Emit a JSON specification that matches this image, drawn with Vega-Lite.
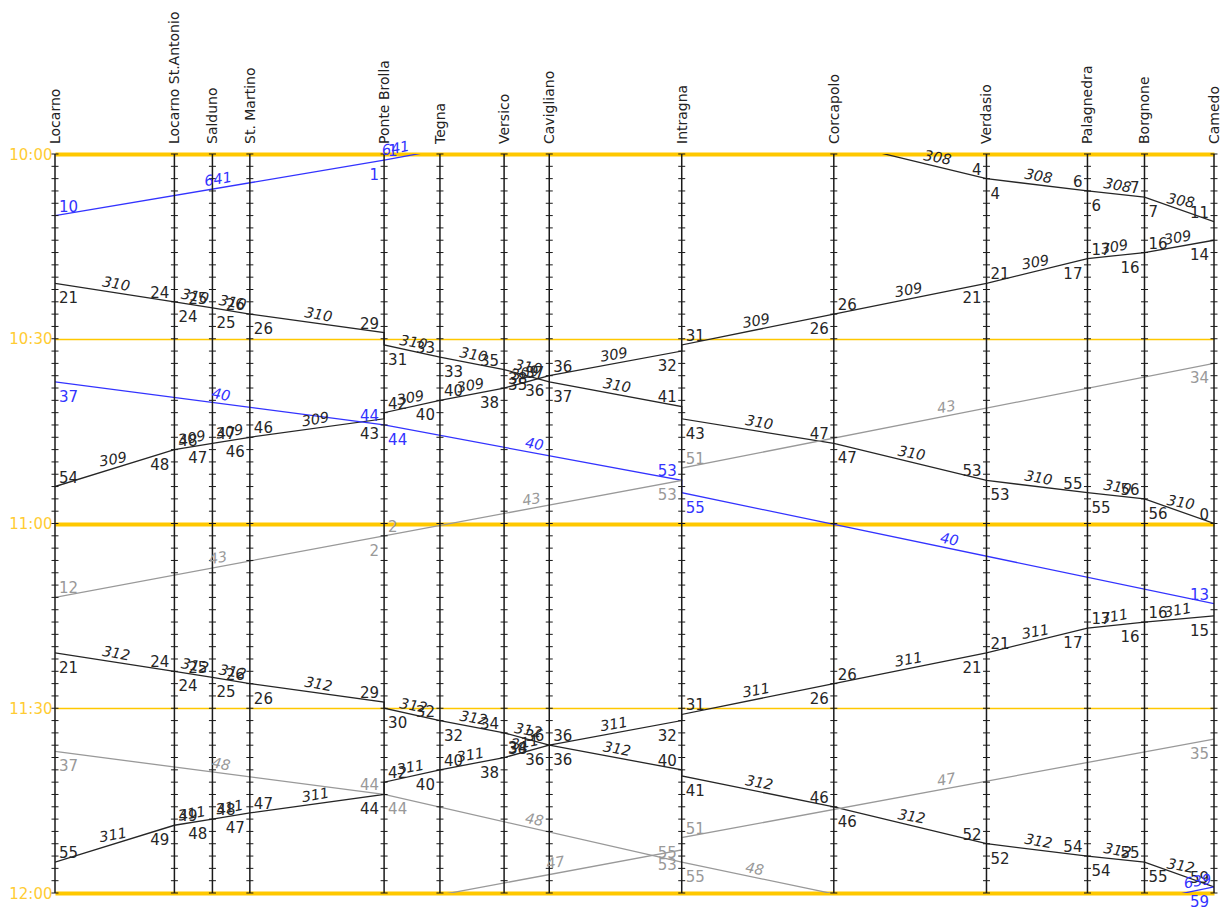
{
  "$schema": "https://vega.github.io/schema/vega-lite/v6.json",
  "width": 1159,
  "height": 739,
  "autosize": {"type": "none"},
  "padding": {"left": 55, "top": 154, "right": 13, "bottom": 14},
  "background": "white",
  "config": {"view": {"stroke": null}, "text": {"font": "DejaVu Sans"}},
  "datasets": {
    "stations": [
      {"s": "Locarno", "k": 0},
      {"s": "Locarno St.Antonio", "k": 2.01},
      {"s": "Salduno", "k": 2.65},
      {"s": "St. Martino", "k": 3.28},
      {"s": "Ponte Brolla", "k": 5.54},
      {"s": "Tegna", "k": 6.48},
      {"s": "Versico", "k": 7.56},
      {"s": "Cavigliano", "k": 8.32},
      {"s": "Intragna", "k": 10.55},
      {"s": "Corcapolo", "k": 13.11},
      {"s": "Verdasio", "k": 15.68},
      {"s": "Palagnedra", "k": 17.38},
      {"s": "Borgnone", "k": 18.34},
      {"s": "Camedo", "k": 19.51}
    ],
    "trains": [
      {"tr": "641", "cat": "E", "dir": "L"},
      {"tr": "308", "cat": "R", "dir": "R"},
      {"tr": "310", "cat": "R", "dir": "R"},
      {"tr": "309", "cat": "R", "dir": "L"},
      {"tr": "40", "cat": "E", "dir": "R"},
      {"tr": "43", "cat": "G", "dir": "L"},
      {"tr": "312", "cat": "R", "dir": "R"},
      {"tr": "311", "cat": "R", "dir": "L"},
      {"tr": "48", "cat": "G", "dir": "R"},
      {"tr": "47", "cat": "G", "dir": "L"},
      {"tr": "639", "cat": "E", "dir": "L"}
    ]
  },
  "data": {
    "values": [
      {"tr": "641", "s": "Intragna", "e": "d", "t": "09:52", "g": 1},
      {"tr": "641", "s": "Ponte Brolla", "e": "a", "t": "10:01", "g": 1},
      {"tr": "641", "s": "Ponte Brolla", "e": "d", "t": "10:01", "g": 2},
      {"tr": "641", "s": "Locarno", "e": "a", "t": "10:10", "g": 2},

      {"tr": "308", "s": "Corcapolo", "e": "d", "t": "09:58", "g": 1},
      {"tr": "308", "s": "Verdasio", "e": "a", "t": "10:04", "g": 1},
      {"tr": "308", "s": "Verdasio", "e": "d", "t": "10:04", "g": 2},
      {"tr": "308", "s": "Palagnedra", "e": "a", "t": "10:06", "g": 2},
      {"tr": "308", "s": "Palagnedra", "e": "d", "t": "10:06", "g": 3},
      {"tr": "308", "s": "Borgnone", "e": "a", "t": "10:07", "g": 3},
      {"tr": "308", "s": "Borgnone", "e": "d", "t": "10:07", "g": 4},
      {"tr": "308", "s": "Camedo", "e": "a", "t": "10:11", "g": 4},

      {"tr": "310", "s": "Locarno", "e": "d", "t": "10:21", "g": 1},
      {"tr": "310", "s": "Locarno St.Antonio", "e": "a", "t": "10:24", "g": 1},
      {"tr": "310", "s": "Locarno St.Antonio", "e": "d", "t": "10:24", "g": 2},
      {"tr": "310", "s": "Salduno", "e": "a", "t": "10:25", "g": 2},
      {"tr": "310", "s": "Salduno", "e": "d", "t": "10:25", "g": 3},
      {"tr": "310", "s": "St. Martino", "e": "a", "t": "10:26", "g": 3},
      {"tr": "310", "s": "St. Martino", "e": "d", "t": "10:26", "g": 4},
      {"tr": "310", "s": "Ponte Brolla", "e": "a", "t": "10:29", "g": 4},
      {"tr": "310", "s": "Ponte Brolla", "e": "d", "t": "10:31", "g": 5},
      {"tr": "310", "s": "Tegna", "e": "a", "t": "10:33", "g": 5},
      {"tr": "310", "s": "Tegna", "e": "d", "t": "10:33", "g": 6},
      {"tr": "310", "s": "Versico", "e": "a", "t": "10:35", "g": 6},
      {"tr": "310", "s": "Versico", "e": "d", "t": "10:35", "g": 7},
      {"tr": "310", "s": "Cavigliano", "e": "a", "t": "10:37", "g": 7},
      {"tr": "310", "s": "Cavigliano", "e": "d", "t": "10:37", "g": 8},
      {"tr": "310", "s": "Intragna", "e": "a", "t": "10:41", "g": 8},
      {"tr": "310", "s": "Intragna", "e": "d", "t": "10:43", "g": 9},
      {"tr": "310", "s": "Corcapolo", "e": "a", "t": "10:47", "g": 9},
      {"tr": "310", "s": "Corcapolo", "e": "d", "t": "10:47", "g": 10},
      {"tr": "310", "s": "Verdasio", "e": "a", "t": "10:53", "g": 10},
      {"tr": "310", "s": "Verdasio", "e": "d", "t": "10:53", "g": 11},
      {"tr": "310", "s": "Palagnedra", "e": "a", "t": "10:55", "g": 11},
      {"tr": "310", "s": "Palagnedra", "e": "d", "t": "10:55", "g": 12},
      {"tr": "310", "s": "Borgnone", "e": "a", "t": "10:56", "g": 12},
      {"tr": "310", "s": "Borgnone", "e": "d", "t": "10:56", "g": 13},
      {"tr": "310", "s": "Camedo", "e": "a", "t": "11:00", "g": 13},

      {"tr": "309", "s": "Camedo", "e": "d", "t": "10:14", "g": 1},
      {"tr": "309", "s": "Borgnone", "e": "a", "t": "10:16", "g": 1},
      {"tr": "309", "s": "Borgnone", "e": "d", "t": "10:16", "g": 2},
      {"tr": "309", "s": "Palagnedra", "e": "a", "t": "10:17", "g": 2},
      {"tr": "309", "s": "Palagnedra", "e": "d", "t": "10:17", "g": 3},
      {"tr": "309", "s": "Verdasio", "e": "a", "t": "10:21", "g": 3},
      {"tr": "309", "s": "Verdasio", "e": "d", "t": "10:21", "g": 4},
      {"tr": "309", "s": "Corcapolo", "e": "a", "t": "10:26", "g": 4},
      {"tr": "309", "s": "Corcapolo", "e": "d", "t": "10:26", "g": 5},
      {"tr": "309", "s": "Intragna", "e": "a", "t": "10:31", "g": 5},
      {"tr": "309", "s": "Intragna", "e": "d", "t": "10:32", "g": 6},
      {"tr": "309", "s": "Cavigliano", "e": "a", "t": "10:36", "g": 6},
      {"tr": "309", "s": "Cavigliano", "e": "d", "t": "10:36", "g": 7},
      {"tr": "309", "s": "Versico", "e": "a", "t": "10:38", "g": 7},
      {"tr": "309", "s": "Versico", "e": "d", "t": "10:38", "g": 8},
      {"tr": "309", "s": "Tegna", "e": "a", "t": "10:40", "g": 8},
      {"tr": "309", "s": "Tegna", "e": "d", "t": "10:40", "g": 9},
      {"tr": "309", "s": "Ponte Brolla", "e": "a", "t": "10:42", "g": 9},
      {"tr": "309", "s": "Ponte Brolla", "e": "d", "t": "10:43", "g": 10},
      {"tr": "309", "s": "St. Martino", "e": "a", "t": "10:46", "g": 10},
      {"tr": "309", "s": "St. Martino", "e": "d", "t": "10:46", "g": 11},
      {"tr": "309", "s": "Salduno", "e": "a", "t": "10:47", "g": 11},
      {"tr": "309", "s": "Salduno", "e": "d", "t": "10:47", "g": 12},
      {"tr": "309", "s": "Locarno St.Antonio", "e": "a", "t": "10:48", "g": 12},
      {"tr": "309", "s": "Locarno St.Antonio", "e": "d", "t": "10:48", "g": 13},
      {"tr": "309", "s": "Locarno", "e": "a", "t": "10:54", "g": 13},

      {"tr": "40", "s": "Locarno", "e": "d", "t": "10:37", "g": 1},
      {"tr": "40", "s": "Ponte Brolla", "e": "a", "t": "10:44", "g": 1},
      {"tr": "40", "s": "Ponte Brolla", "e": "d", "t": "10:44", "g": 2},
      {"tr": "40", "s": "Intragna", "e": "a", "t": "10:53", "g": 2},
      {"tr": "40", "s": "Intragna", "e": "d", "t": "10:55", "g": 3},
      {"tr": "40", "s": "Camedo", "e": "a", "t": "11:13", "g": 3},

      {"tr": "43", "s": "Camedo", "e": "d", "t": "10:34", "g": 1},
      {"tr": "43", "s": "Intragna", "e": "a", "t": "10:51", "g": 1},
      {"tr": "43", "s": "Intragna", "e": "d", "t": "10:53", "g": 2},
      {"tr": "43", "s": "Ponte Brolla", "e": "a", "t": "11:02", "g": 2},
      {"tr": "43", "s": "Ponte Brolla", "e": "d", "t": "11:02", "g": 3},
      {"tr": "43", "s": "Locarno", "e": "a", "t": "11:12", "g": 3},

      {"tr": "312", "s": "Locarno", "e": "d", "t": "11:21", "g": 1},
      {"tr": "312", "s": "Locarno St.Antonio", "e": "a", "t": "11:24", "g": 1},
      {"tr": "312", "s": "Locarno St.Antonio", "e": "d", "t": "11:24", "g": 2},
      {"tr": "312", "s": "Salduno", "e": "a", "t": "11:25", "g": 2},
      {"tr": "312", "s": "Salduno", "e": "d", "t": "11:25", "g": 3},
      {"tr": "312", "s": "St. Martino", "e": "a", "t": "11:26", "g": 3},
      {"tr": "312", "s": "St. Martino", "e": "d", "t": "11:26", "g": 4},
      {"tr": "312", "s": "Ponte Brolla", "e": "a", "t": "11:29", "g": 4},
      {"tr": "312", "s": "Ponte Brolla", "e": "d", "t": "11:30", "g": 5},
      {"tr": "312", "s": "Tegna", "e": "a", "t": "11:32", "g": 5},
      {"tr": "312", "s": "Tegna", "e": "d", "t": "11:32", "g": 6},
      {"tr": "312", "s": "Versico", "e": "a", "t": "11:34", "g": 6},
      {"tr": "312", "s": "Versico", "e": "d", "t": "11:34", "g": 7},
      {"tr": "312", "s": "Cavigliano", "e": "a", "t": "11:36", "g": 7},
      {"tr": "312", "s": "Cavigliano", "e": "d", "t": "11:36", "g": 8},
      {"tr": "312", "s": "Intragna", "e": "a", "t": "11:40", "g": 8},
      {"tr": "312", "s": "Intragna", "e": "d", "t": "11:41", "g": 9},
      {"tr": "312", "s": "Corcapolo", "e": "a", "t": "11:46", "g": 9},
      {"tr": "312", "s": "Corcapolo", "e": "d", "t": "11:46", "g": 10},
      {"tr": "312", "s": "Verdasio", "e": "a", "t": "11:52", "g": 10},
      {"tr": "312", "s": "Verdasio", "e": "d", "t": "11:52", "g": 11},
      {"tr": "312", "s": "Palagnedra", "e": "a", "t": "11:54", "g": 11},
      {"tr": "312", "s": "Palagnedra", "e": "d", "t": "11:54", "g": 12},
      {"tr": "312", "s": "Borgnone", "e": "a", "t": "11:55", "g": 12},
      {"tr": "312", "s": "Borgnone", "e": "d", "t": "11:55", "g": 13},
      {"tr": "312", "s": "Camedo", "e": "a", "t": "11:59", "g": 13},

      {"tr": "311", "s": "Camedo", "e": "d", "t": "11:15", "g": 1},
      {"tr": "311", "s": "Borgnone", "e": "a", "t": "11:16", "g": 1},
      {"tr": "311", "s": "Borgnone", "e": "d", "t": "11:16", "g": 2},
      {"tr": "311", "s": "Palagnedra", "e": "a", "t": "11:17", "g": 2},
      {"tr": "311", "s": "Palagnedra", "e": "d", "t": "11:17", "g": 3},
      {"tr": "311", "s": "Verdasio", "e": "a", "t": "11:21", "g": 3},
      {"tr": "311", "s": "Verdasio", "e": "d", "t": "11:21", "g": 4},
      {"tr": "311", "s": "Corcapolo", "e": "a", "t": "11:26", "g": 4},
      {"tr": "311", "s": "Corcapolo", "e": "d", "t": "11:26", "g": 5},
      {"tr": "311", "s": "Intragna", "e": "a", "t": "11:31", "g": 5},
      {"tr": "311", "s": "Intragna", "e": "d", "t": "11:32", "g": 6},
      {"tr": "311", "s": "Cavigliano", "e": "a", "t": "11:36", "g": 6},
      {"tr": "311", "s": "Cavigliano", "e": "d", "t": "11:36", "g": 7},
      {"tr": "311", "s": "Versico", "e": "a", "t": "11:38", "g": 7},
      {"tr": "311", "s": "Versico", "e": "d", "t": "11:38", "g": 8},
      {"tr": "311", "s": "Tegna", "e": "a", "t": "11:40", "g": 8},
      {"tr": "311", "s": "Tegna", "e": "d", "t": "11:40", "g": 9},
      {"tr": "311", "s": "Ponte Brolla", "e": "a", "t": "11:42", "g": 9},
      {"tr": "311", "s": "Ponte Brolla", "e": "d", "t": "11:44", "g": 10},
      {"tr": "311", "s": "St. Martino", "e": "a", "t": "11:47", "g": 10},
      {"tr": "311", "s": "St. Martino", "e": "d", "t": "11:47", "g": 11},
      {"tr": "311", "s": "Salduno", "e": "a", "t": "11:48", "g": 11},
      {"tr": "311", "s": "Salduno", "e": "d", "t": "11:48", "g": 12},
      {"tr": "311", "s": "Locarno St.Antonio", "e": "a", "t": "11:49", "g": 12},
      {"tr": "311", "s": "Locarno St.Antonio", "e": "d", "t": "11:49", "g": 13},
      {"tr": "311", "s": "Locarno", "e": "a", "t": "11:55", "g": 13},

      {"tr": "48", "s": "Locarno", "e": "d", "t": "11:37", "g": 1},
      {"tr": "48", "s": "Ponte Brolla", "e": "a", "t": "11:44", "g": 1},
      {"tr": "48", "s": "Ponte Brolla", "e": "d", "t": "11:44", "g": 2},
      {"tr": "48", "s": "Intragna", "e": "a", "t": "11:55", "g": 2},
      {"tr": "48", "s": "Intragna", "e": "d", "t": "11:55", "g": 3},
      {"tr": "48", "s": "Camedo", "e": "a", "t": "12:13", "g": 3},

      {"tr": "47", "s": "Camedo", "e": "d", "t": "11:35", "g": 1},
      {"tr": "47", "s": "Intragna", "e": "a", "t": "11:51", "g": 1},
      {"tr": "47", "s": "Intragna", "e": "d", "t": "11:53", "g": 2},
      {"tr": "47", "s": "Ponte Brolla", "e": "a", "t": "12:02", "g": 2},

      {"tr": "639", "s": "Camedo", "e": "d", "t": "11:59", "g": 1},
      {"tr": "639", "s": "Intragna", "e": "a", "t": "12:17", "g": 1}
    ],
    "format": {"parse": {"t": "utc:'%H:%M'"}}
  },
  "transform": [
    {"lookup": "s", "from": {"data": {"name": "stations"}, "key": "s", "fields": ["k"]}},
    {"lookup": "tr", "from": {"data": {"name": "trains"}, "key": "tr", "fields": ["cat", "dir"]}}
  ],
  "encoding": {
    "x": {"field": "k", "type": "quantitative", "scale": {"domain": [0, 19.51], "nice": false, "zero": false}, "axis": null},
    "color": {"field": "cat", "type": "nominal", "scale": {"domain": ["R", "E", "G"], "range": ["#262626", "#3333FF", "#999999"]}, "legend": null}
  },
  "layer": [
    {
      "encoding": {
        "y": {
          "field": "t", "type": "temporal",
          "scale": {"type": "utc", "reverse": true, "nice": false,
            "domain": [{"utc": true, "year": 1900, "month": 1, "date": 1, "hours": 10, "minutes": 0},
                       {"utc": true, "year": 1900, "month": 1, "date": 1, "hours": 12, "minutes": 0}]},
          "axis": {
            "title": null,
            "values": [
              {"utc": true, "year": 1900, "month": 1, "date": 1, "hours": 10, "minutes": 0},
              {"utc": true, "year": 1900, "month": 1, "date": 1, "hours": 10, "minutes": 30},
              {"utc": true, "year": 1900, "month": 1, "date": 1, "hours": 11, "minutes": 0},
              {"utc": true, "year": 1900, "month": 1, "date": 1, "hours": 11, "minutes": 30},
              {"utc": true, "year": 1900, "month": 1, "date": 1, "hours": 12, "minutes": 0}
            ],
            "format": "%H:%M",
            "ticks": false,
            "domain": false,
            "labelColor": "#FFCC33",
            "labelFont": "DejaVu Sans",
            "labelFontSize": 15,
            "labelPadding": 3,
            "labelOverlap": false,
            "grid": true,
            "gridColor": "#FFC800",
            "gridOpacity": 1,
            "gridWidth": {"condition": {"test": "utcminutes(datum.value) === 0", "value": 4}, "value": 1.5}
          }
        }
      },
      "layer": [
        {
          "mark": {"type": "line", "clip": true, "strokeWidth": 1.3},
          "encoding": {"detail": {"field": "tr"}, "order": {"field": "t", "type": "temporal"}}
        }
      ]
    },
    {
      "data": {"values": [
        {"s": "Locarno", "k": 0},
        {"s": "Locarno St.Antonio", "k": 2.01},
        {"s": "Salduno", "k": 2.65},
        {"s": "St. Martino", "k": 3.28},
        {"s": "Ponte Brolla", "k": 5.54},
        {"s": "Tegna", "k": 6.48},
        {"s": "Versico", "k": 7.56},
        {"s": "Cavigliano", "k": 8.32},
        {"s": "Intragna", "k": 10.55},
        {"s": "Corcapolo", "k": 13.11},
        {"s": "Verdasio", "k": 15.68},
        {"s": "Palagnedra", "k": 17.38},
        {"s": "Borgnone", "k": 18.34},
        {"s": "Camedo", "k": 19.51}
      ]},
      "layer": [
        {
          "mark": {"type": "rule", "strokeWidth": 1.5},
          "encoding": {
            "y": {"datum": {"utc": true, "year": 1900, "month": 1, "date": 1, "hours": 10, "minutes": 0}, "type": "temporal"},
            "y2": {"datum": {"utc": true, "year": 1900, "month": 1, "date": 1, "hours": 12, "minutes": 0}},
            "color": {"value": "#1a1a1a"}
          }
        },
        {
          "mark": {"type": "text", "angle": 270, "align": "left", "baseline": "middle", "dx": 10, "dy": 1, "fontSize": 14},
          "encoding": {
            "y": {"datum": {"utc": true, "year": 1900, "month": 1, "date": 1, "hours": 10, "minutes": 0}, "type": "temporal"},
            "text": {"field": "s"},
            "color": {"value": "#222222"}
          }
        }
      ]
    },
    {
      "data": {"values": [{
        "k": [0, 2.01, 2.65, 3.28, 5.54, 6.48, 7.56, 8.32, 10.55, 13.11, 15.68, 17.38, 18.34, 19.51],
        "t": [-2208952800000, -2208952680000, -2208952560000, -2208952440000, -2208952320000, -2208952200000, -2208952080000, -2208951960000, -2208951840000, -2208951720000,
              -2208951600000, -2208951480000, -2208951360000, -2208951240000, -2208951120000, -2208951000000, -2208950880000, -2208950760000, -2208950640000, -2208950520000,
              -2208950400000, -2208950280000, -2208950160000, -2208950040000, -2208949920000, -2208949800000, -2208949680000, -2208949560000, -2208949440000, -2208949320000,
              -2208949200000, -2208949080000, -2208948960000, -2208948840000, -2208948720000, -2208948600000, -2208948480000, -2208948360000, -2208948240000, -2208948120000,
              -2208948000000, -2208947880000, -2208947760000, -2208947640000, -2208947520000, -2208947400000, -2208947280000, -2208947160000, -2208947040000, -2208946920000,
              -2208946800000, -2208946680000, -2208946560000, -2208946440000, -2208946320000, -2208946200000, -2208946080000, -2208945960000, -2208945840000, -2208945720000,
              -2208945600000]
      }]},
      "transform": [{"flatten": ["k"]}, {"flatten": ["t"]}],
      "mark": {"type": "tick", "orient": "horizontal", "size": 7, "thickness": 1, "opacity": 1},
      "encoding": {
        "y": {"field": "t", "type": "temporal"},
        "color": {"value": "#1a1a1a"}
      }
    },
    {
      "encoding": {"y": {"field": "t", "type": "temporal"}},
      "layer": [
        {
          "transform": [
            {"filter": "datum.e === 'a' && datum.dir === 'R'"},
            {"filter": {"field": "t", "range": [{"utc": true, "year": 1900, "month": 1, "date": 1, "hours": 10, "minutes": 0}, {"utc": true, "year": 1900, "month": 1, "date": 1, "hours": 12, "minutes": 0}]}}
          ],
          "mark": {"type": "text", "align": "right", "baseline": "alphabetic", "dx": -5, "dy": -4, "fontSize": 15},
          "encoding": {"text": {"field": "t", "type": "temporal", "format": "%-M"}}
        },
        {
          "transform": [
            {"filter": "datum.e === 'a' && datum.dir === 'L'"},
            {"filter": {"field": "t", "range": [{"utc": true, "year": 1900, "month": 1, "date": 1, "hours": 10, "minutes": 0}, {"utc": true, "year": 1900, "month": 1, "date": 1, "hours": 12, "minutes": 0}]}}
          ],
          "mark": {"type": "text", "align": "left", "baseline": "alphabetic", "dx": 4, "dy": -4, "fontSize": 15},
          "encoding": {"text": {"field": "t", "type": "temporal", "format": "%-M"}}
        },
        {
          "transform": [
            {"filter": "datum.e === 'd' && datum.dir === 'R'"},
            {"filter": {"field": "t", "range": [{"utc": true, "year": 1900, "month": 1, "date": 1, "hours": 10, "minutes": 0}, {"utc": true, "year": 1900, "month": 1, "date": 1, "hours": 12, "minutes": 0}]}}
          ],
          "mark": {"type": "text", "align": "left", "baseline": "alphabetic", "dx": 4, "dy": 20, "fontSize": 15},
          "encoding": {"text": {"field": "t", "type": "temporal", "format": "%-M"}}
        },
        {
          "transform": [
            {"filter": "datum.e === 'd' && datum.dir === 'L'"},
            {"filter": {"field": "t", "range": [{"utc": true, "year": 1900, "month": 1, "date": 1, "hours": 10, "minutes": 0}, {"utc": true, "year": 1900, "month": 1, "date": 1, "hours": 12, "minutes": 0}]}}
          ],
          "mark": {"type": "text", "align": "right", "baseline": "alphabetic", "dx": -5, "dy": 20, "fontSize": 15},
          "encoding": {"text": {"field": "t", "type": "temporal", "format": "%-M"}}
        },
        {
          "transform": [
            {"aggregate": [
              {"op": "mean", "field": "k", "as": "k"},
              {"op": "mean", "field": "t", "as": "t"},
              {"op": "min", "field": "t", "as": "t0"},
              {"op": "max", "field": "t", "as": "t1"}
            ], "groupby": ["tr", "g", "cat", "dir"]},
            {"filter": {"and": [
              {"field": "t0", "gte": {"utc": true, "year": 1900, "month": 1, "date": 1, "hours": 10, "minutes": 0}},
              {"field": "t1", "lte": {"utc": true, "year": 1900, "month": 1, "date": 1, "hours": 12, "minutes": 0}}
            ]}}
          ],
          "mark": {"type": "text", "align": "center", "baseline": "alphabetic", "dy": -4, "fontSize": 14.5, "fontStyle": "italic"},
          "encoding": {
            "text": {"field": "tr"},
            "angle": {"condition": {"test": "datum.dir === 'R'", "value": 10}, "value": 350}
          }
        }
      ]
    },
    {
      "data": {
        "values": [
          {"tr": "641", "k": 5.76, "t": "10:00:30"},
          {"tr": "308", "k": 14.83, "t": "10:02:00"},
          {"tr": "48", "k": 11.75, "t": "11:57:30"},
          {"tr": "47", "k": 8.45, "t": "11:56:30"},
          {"tr": "639", "k": 19.26, "t": "11:59:30"}
        ],
        "format": {"parse": {"t": "utc:'%H:%M:%S'"}}
      },
      "transform": [
        {"lookup": "tr", "from": {"data": {"name": "trains"}, "key": "tr", "fields": ["cat", "dir"]}}
      ],
      "mark": {"type": "text", "align": "center", "baseline": "alphabetic", "dy": -4, "fontSize": 14.5, "fontStyle": "italic"},
      "encoding": {
        "y": {"field": "t", "type": "temporal"},
        "text": {"field": "tr"},
        "angle": {"condition": {"test": "datum.dir === 'R'", "value": 10}, "value": 350}
      }
    }
  ]
}
